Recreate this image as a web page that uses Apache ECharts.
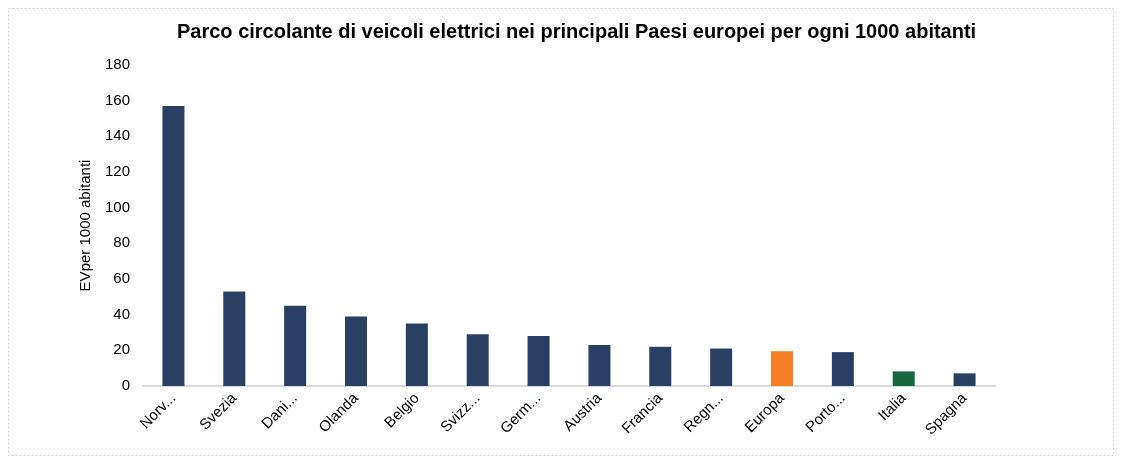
<!DOCTYPE html>
<html><head><meta charset="utf-8">
<script src="https://cdn.jsdelivr.net/npm/echarts@6/dist/echarts.min.js"></script>
<style>html,body{margin:0;padding:0;background:#fff}#c{width:1123px;height:464px}</style>
</head><body><div id="c"></div>
<script>
const categories = ['Norvegia','Svezia','Danimarca','Olanda','Belgio','Svizzera','Germania','Austria','Francia','Regno Unito','Europa','Portogallo','Italia','Spagna'];
const tickLabels = ['Norv...','Svezia','Dani...','Olanda','Belgio','Svizz...','Germ...','Austria','Francia','Regn...','Europa','Porto...','Italia','Spagna'];
const values = [157, 53, 45, 39, 35, 29, 28, 23, 22, 21, 19.5, 19, 8.2, 7.1];
const barColors = ['#2B3F64','#2B3F64','#2B3F64','#2B3F64','#2B3F64','#2B3F64','#2B3F64','#2B3F64','#2B3F64','#2B3F64','#F47F26','#2B3F64','#17673F','#2B3F64'];
const yTicks = [0,20,40,60,80,100,120,140,160,180];

const chart = echarts.init(document.getElementById('c'));
chart.setOption({
  animation:false,
  graphic:[{type:'rect',shape:{x:8.5,y:8.5,width:1105,height:447},style:{fill:'none',stroke:'#d0d0d0',lineWidth:1,lineDash:[2,2]}}],
  title:{text:'Parco circolante di veicoli elettrici nei principali Paesi europei per ogni 1000 abitanti',left:172,top:17,
    textStyle:{fontFamily:'Liberation Sans',fontWeight:'bold',fontSize:20,color:'#000'}},
  grid:{left:143,right:128,top:65,bottom:78},
  xAxis:{type:'category',data:categories,
    axisLine:{lineStyle:{color:'#d9d9d9',width:2}},axisTick:{show:false},
    axisLabel:{rotate:45,interval:0,margin:10,fontFamily:'Liberation Sans',fontSize:15,color:'#000',
      formatter:(v,i)=>tickLabels[i]}},
  yAxis:{type:'value',min:0,max:180,interval:20,
    name:'EVper 1000 abitanti',nameLocation:'middle',nameGap:50,
    nameTextStyle:{fontFamily:'Liberation Sans',fontSize:15,color:'#000'},
    axisLine:{show:false},axisTick:{show:false},splitLine:{show:false},
    axisLabel:{fontFamily:'Liberation Sans',fontSize:15,color:'#000',margin:13,
      formatter:v=>yTicks.includes(v)?String(v):''}},
  series:[{type:'bar',barWidth:22,
    data:values.map((v,i)=>({value:v,itemStyle:{color:barColors[i]}}))}]
});
</script></body></html>
